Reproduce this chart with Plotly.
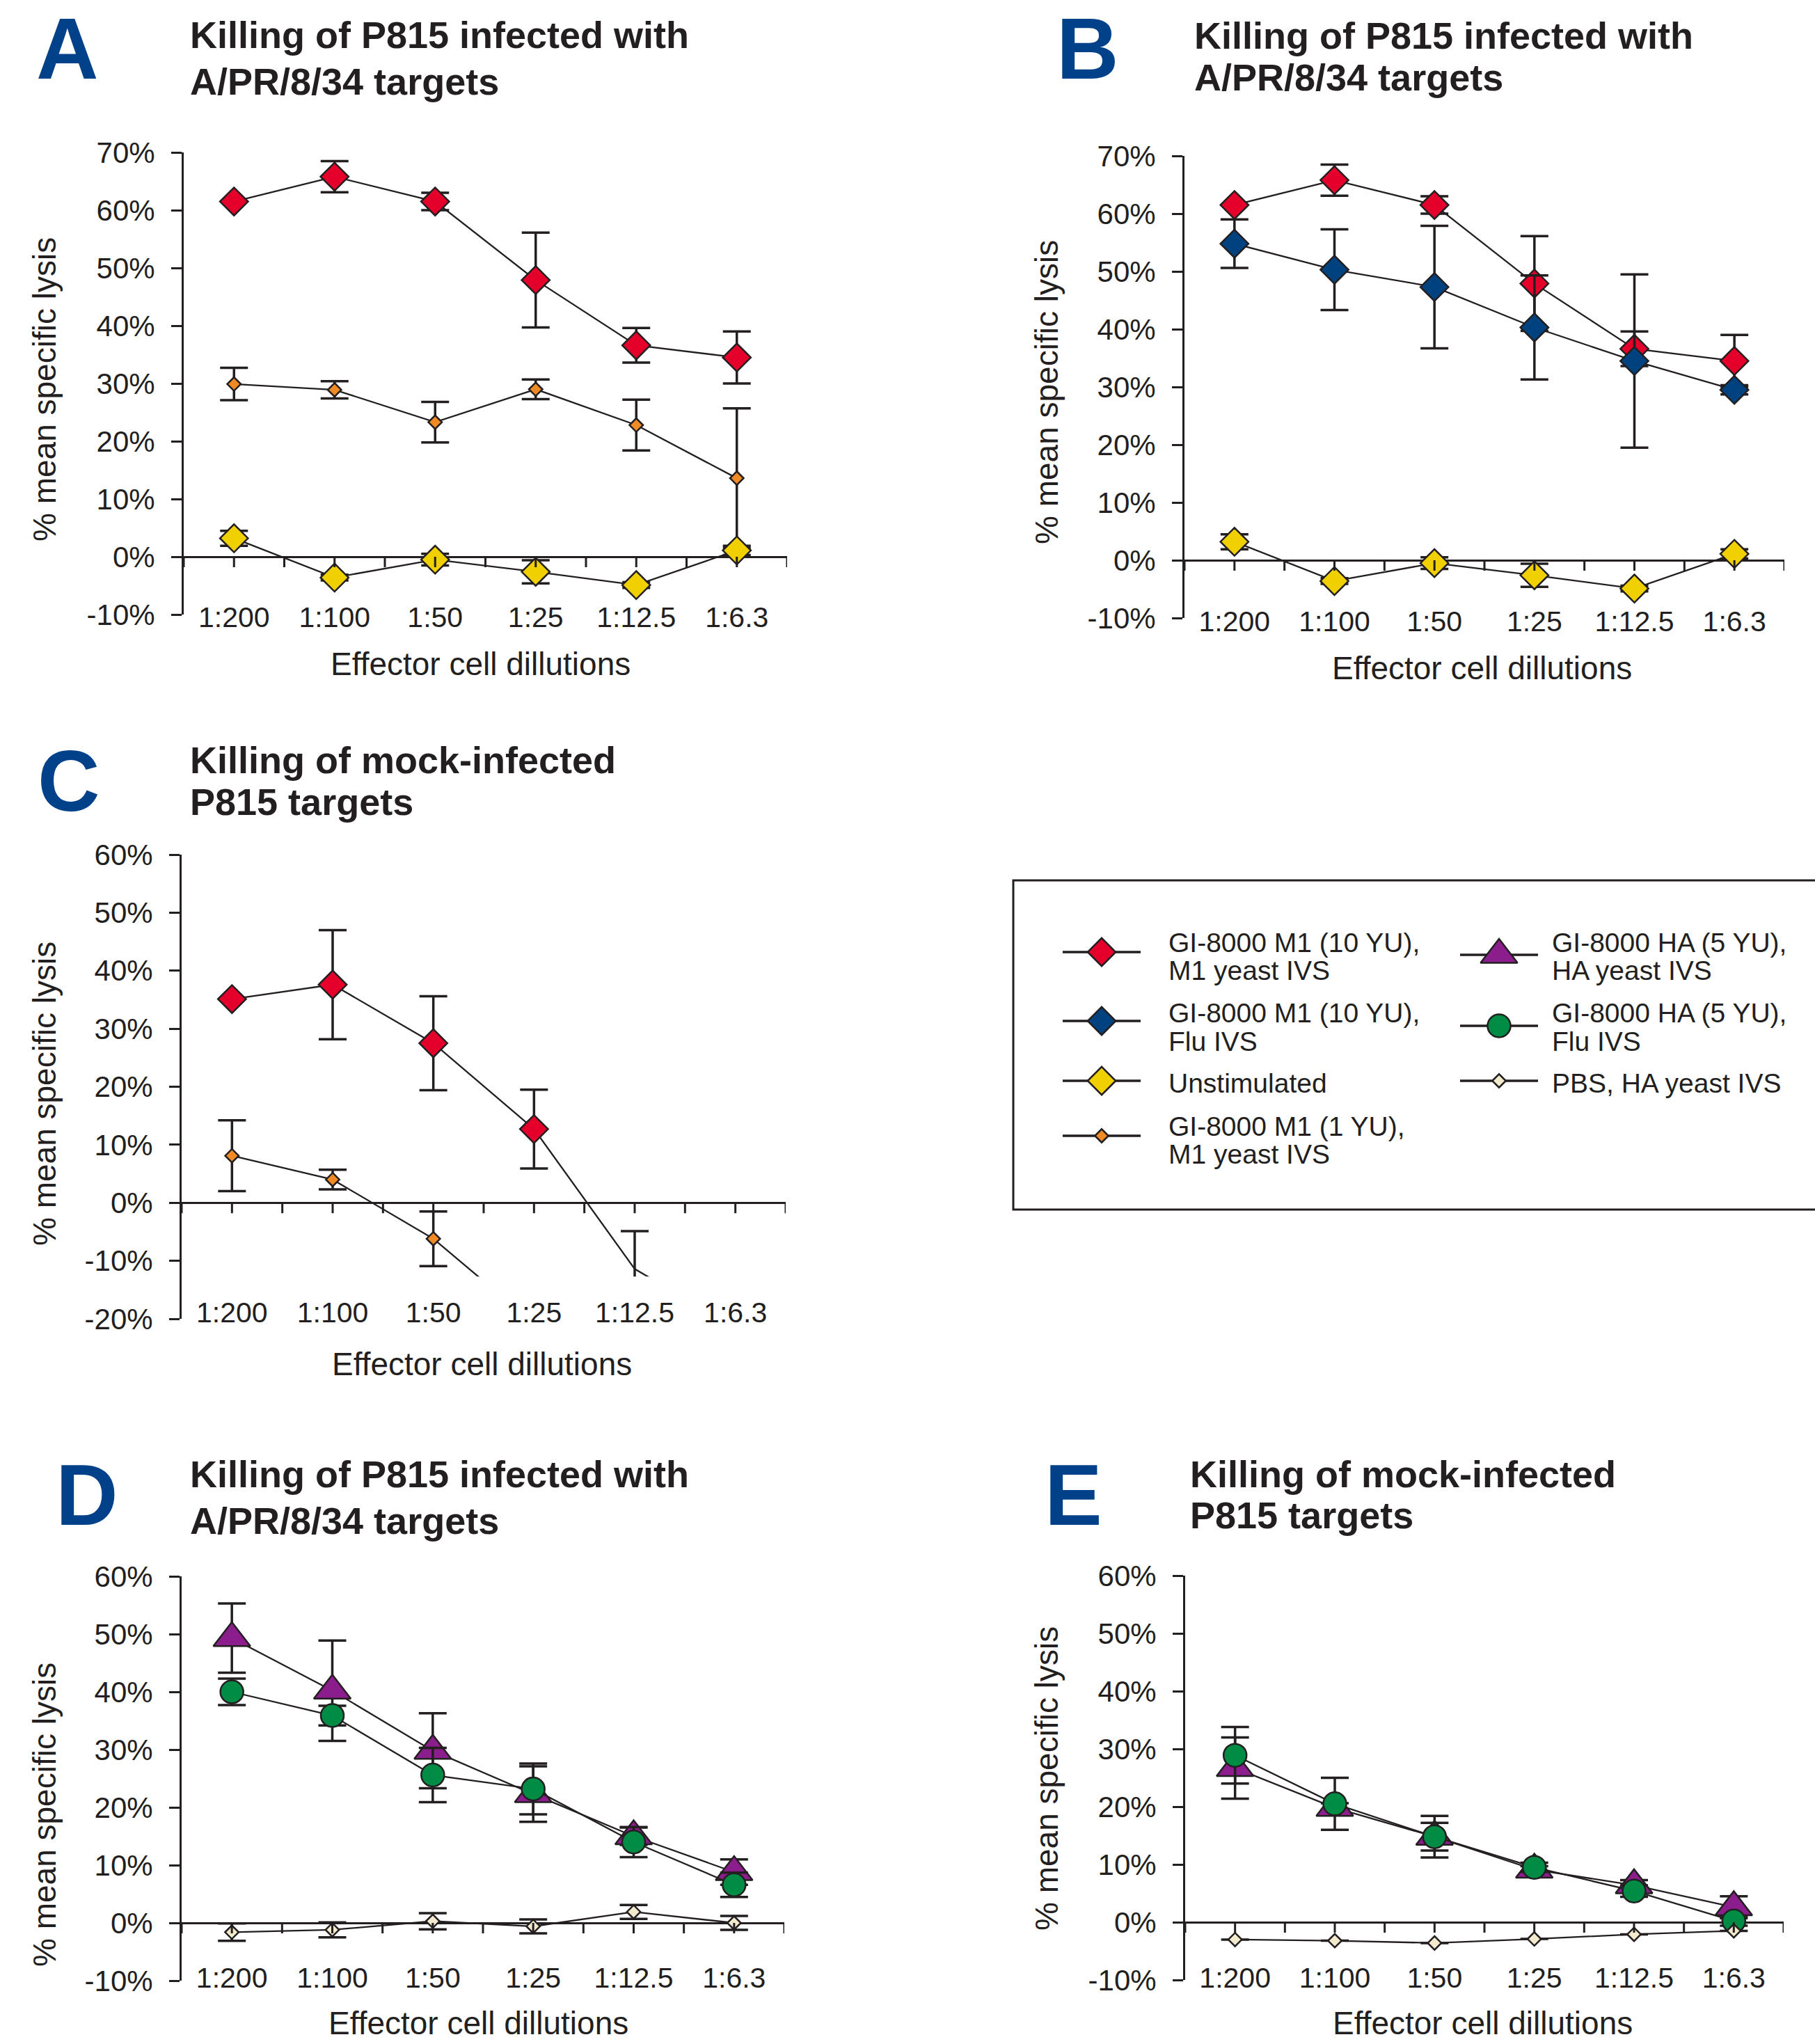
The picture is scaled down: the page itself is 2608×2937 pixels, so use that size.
import plotly.graph_objects as go

W, H = 2608, 2937

CATEGORIES = ["1:200", "1:100", "1:50", "1:25", "1:12.5", "1:6.3"]

# ---- Panel A : killing of A/PR/8/34 infected P815 ----
A_M1_10YU_M1IVS = [61.5, 65.8, 61.5, 47.9, 36.6, 34.5]
A_M1_10YU_M1IVS_ERR = [0, 2.7, 1.5, 8.2, 3.0, 4.5]
A_M1_1YU_M1IVS = [29.9, 28.9, 23.3, 29.0, 22.8, 13.6]
A_M1_1YU_M1IVS_ERR = [2.8, 1.5, 3.5, 1.7, 4.4, 12.1]
A_UNSTIM = [3.2, -3.6, -0.5, -2.6, -4.9, 1.1]
A_UNSTIM_ERR = [1.3, 0.5, 1.0, 2.0, 0.5, 0.8]

# ---- Panel B ----
B_M1_10YU_M1IVS = [61.5, 65.8, 61.5, 47.9, 36.6, 34.5]
B_M1_10YU_M1IVS_ERR = [0, 2.7, 1.5, 8.2, 3.0, 4.5]
B_M1_10YU_FLU = [54.8, 50.3, 47.3, 40.3, 34.5, 29.5]
B_M1_10YU_FLU_ERR = [4.2, 7.0, 10.6, 9.0, 15.0, 0.8]
B_UNSTIM = [3.2, -3.6, -0.5, -2.6, -4.9, 1.1]
B_UNSTIM_ERR = [1.3, 0.5, 1.0, 2.0, 0.5, 0.8]

# ---- Panel C : mock-infected ----
C_M1_10YU_M1IVS = [35.1, 37.6, 27.5, 12.7, -11.4, -21.6]
C_M1_10YU_M1IVS_ERR = [0, 9.4, 8.1, 6.8, 6.5, 0]
C_M1_1YU_M1IVS = [8.1, 4.0, -6.2, -20.8, None, None]
C_M1_1YU_M1IVS_ERR = [6.1, 1.7, 4.7, 0, 0, 0]

# ---- Panel D ----
D_HA_5YU_HAIVS = [49.3, 40.2, 29.8, 22.3, 15.0, 8.8]
D_HA_5YU_HAIVS_ERR = [6.0, 8.7, 6.5, 4.8, 1.5, 2.2]
D_HA_5YU_FLU = [40.0, 35.9, 25.6, 23.2, 14.0, 6.6]
D_HA_5YU_FLU_ERR = [2.3, 1.7, 4.7, 4.4, 2.6, 2.1]
D_PBS = [-1.6, -1.2, 0.3, -0.6, 1.9, 0.0]
D_PBS_ERR = [1.5, 1.3, 1.4, 1.2, 1.2, 1.2]

# ---- Panel E ----
E_HA_5YU_HAIVS = [26.7, 19.8, 14.8, 9.1, 6.4, 2.6]
E_HA_5YU_HAIVS_ERR = [5.3, 0.8, 2.4, 0.6, 0.9, 1.9]
E_HA_5YU_FLU = [28.9, 20.5, 14.8, 9.5, 5.4, 0.2]
E_HA_5YU_FLU_ERR = [4.9, 4.5, 3.6, 0.8, 1.0, 0.8]
E_PBS = [-3.0, -3.2, -3.6, -2.9, -2.1, -1.5]
E_PBS_ERR = [0, 0, 0, 0, 0, 0]

C_CLIP = -12.7          # the original panel C is cut off below this value
C_MARKER_FLOOR = -10.0  # markers below this are not shown in panel C

LEGEND_LABELS = {
    "m1_10_m1": ["GI-8000 M1 (10 YU),", "M1 yeast IVS"],
    "m1_10_flu": ["GI-8000 M1 (10 YU),", "Flu IVS"],
    "unstim": ["Unstimulated"],
    "m1_1_m1": ["GI-8000 M1 (1 YU),", "M1 yeast IVS"],
    "ha_5_ha": ["GI-8000 HA (5 YU),", "HA yeast IVS"],
    "ha_5_flu": ["GI-8000 HA (5 YU),", "Flu IVS"],
    "pbs": ["PBS, HA yeast IVS"],
}

# ---------------- styles ----------------
DARK = "#231F20"
FONT = "Liberation Sans, Arial, Helvetica, sans-serif"
LETTER_BLUE = "#00418A"
STYLE = {
    "m1_10_m1": dict(color="#E4002B", symbol="diamond", size=31),
    "m1_10_flu": dict(color="#00427F", symbol="diamond", size=31),
    "unstim": dict(color="#F0D000", symbol="diamond", size=31),
    "m1_1_m1": dict(color="#F08A24", symbol="diamond", size=15),
    "ha_5_ha": dict(color="#8B1E8C", symbol="triangle-up", size=46),
    "ha_5_flu": dict(color="#008C45", symbol="circle", size=33),
    "pbs": dict(color="#F3E9CC", symbol="diamond", size=15),
}


def px(x):
    return x / W


def py(y):
    return 1 - y / H


# panel geometry in pixels
PANELS = [
    dict(letter="A", x0=264, x1=1131, y0=219, y1=883, yr=(-10, 70), lab_top=873,
         title=["Killing of P815 infected with", "A/PR/8/34 targets"], tx=271, ty=(50, 117),
         lx=97, ly=70, ytx=64, yty=560, xtx=690, xty=954),
    dict(letter="B", x0=1702, x1=2564, y0=224, y1=888, yr=(-10, 70), lab_top=879,
         title=["Killing of P815 infected with", "A/PR/8/34 targets"], tx=1714, ty=(51, 111),
         lx=1563, ly=70, ytx=1504, yty=564, xtx=2129, xty=960),
    dict(letter="C", x0=261, x1=1129, y0=1228, y1=1895, yr=(-20, 60), lab_top=1872,
         title=["Killing of mock-infected", "P815 targets"], tx=271, ty=(1092, 1152),
         lx=99, ly=1122, ytx=64, yty=1572, xtx=692, xty=1960),
    dict(letter="D", x0=261, x1=1127, y0=2265, y1=2846, yr=(-10, 60), lab_top=2828,
         title=["Killing of P815 infected with", "A/PR/8/34 targets"], tx=271, ty=(2118, 2185),
         lx=125, ly=2148, ytx=64, yty=2608, xtx=688, xty=2907),
    dict(letter="E", x0=1703, x1=2563, y0=2264, y1=2845, yr=(-10, 60), lab_top=2828,
         title=["Killing of mock-infected", "P815 targets"], tx=1708, ty=(2118, 2177),
         lx=1542, ly=2148, ytx=1504, yty=2556, xtx=2130, xty=2907),
]

SERIES = [
    [("m1_10_m1", A_M1_10YU_M1IVS, A_M1_10YU_M1IVS_ERR),
     ("m1_1_m1", A_M1_1YU_M1IVS, A_M1_1YU_M1IVS_ERR),
     ("unstim", A_UNSTIM, A_UNSTIM_ERR)],
    [("m1_10_m1", B_M1_10YU_M1IVS, B_M1_10YU_M1IVS_ERR),
     ("m1_10_flu", B_M1_10YU_FLU, B_M1_10YU_FLU_ERR),
     ("unstim", B_UNSTIM, B_UNSTIM_ERR)],
    [("m1_10_m1", C_M1_10YU_M1IVS, C_M1_10YU_M1IVS_ERR),
     ("m1_1_m1", C_M1_1YU_M1IVS, C_M1_1YU_M1IVS_ERR)],
    [("ha_5_ha", D_HA_5YU_HAIVS, D_HA_5YU_HAIVS_ERR),
     ("ha_5_flu", D_HA_5YU_FLU, D_HA_5YU_FLU_ERR),
     ("pbs", D_PBS, D_PBS_ERR)],
    [("ha_5_ha", E_HA_5YU_HAIVS, E_HA_5YU_HAIVS_ERR),
     ("ha_5_flu", E_HA_5YU_FLU, E_HA_5YU_FLU_ERR),
     ("pbs", E_PBS, E_PBS_ERR)],
]

fig = go.Figure()
layout = {}
annotations = []
shapes = []


def ax_names(n):
    s = "" if n == 1 else str(n)
    return "x" + s, "y" + s, "xaxis" + s, "yaxis" + s


CLIP_AX = 7  # hidden subplot used to clip the data of panel C

for i, p in enumerate(PANELS):
    n = i + 1
    xr, yr_, xk, yk = ax_names(n)
    ylo, yhi = p["yr"]
    tickvals = list(range(ylo, yhi + 1, 10))
    layout[xk] = dict(
        domain=[px(p["x0"]), px(p["x1"])], type="category",
        categoryorder="array", categoryarray=CATEGORIES,
        range=[-0.5, len(CATEGORIES) - 0.5], anchor="free",
        position=py(p["lab_top"] - 14), showline=False, ticks="", showgrid=False,
        zeroline=False, tickfont=dict(family=FONT, size=41, color=DARK),
        fixedrange=True,
    )
    layout[yk] = dict(
        domain=[py(p["y1"]), py(p["y0"])], range=[ylo, yhi], anchor=xr,
        tickmode="array", tickvals=tickvals, ticktext=[f"{v}%" for v in tickvals],
        ticks="outside", ticklen=15, tickwidth=3, tickcolor=DARK,
        showline=True, linewidth=3, linecolor=DARK,
        zeroline=True, zerolinecolor=DARK, zerolinewidth=3, showgrid=False,
        tickfont=dict(family=FONT, size=42, color=DARK), ticklabelstandoff=15,
        fixedrange=True,
    )
    # tick marks hanging below the zero line
    k = -0.5
    while k <= len(CATEGORIES) - 0.5 + 1e-9:
        shapes.append(dict(type="line", xref=xr, yref=yr_, ysizemode="pixel", yanchor=0,
                           x0=k, x1=k, y0=0, y1=-15, line=dict(color=DARK, width=3)))
        k += 0.5

    txr, tyr = xr, yr_
    if p["letter"] == "C":
        # data of panel C live in an overlapping subplot whose bottom edge is the clip line
        txr, tyr = f"x{CLIP_AX}", f"y{CLIP_AX}"
        clip_px = p["y0"] + (yhi - C_CLIP) / (yhi - ylo) * (p["y1"] - p["y0"])
        layout[f"xaxis{CLIP_AX}"] = dict(
            domain=[px(p["x0"]), px(p["x1"])], type="category",
            categoryorder="array", categoryarray=CATEGORIES,
            range=[-0.5, len(CATEGORIES) - 0.5], visible=False, anchor=tyr, fixedrange=True)
        layout[f"yaxis{CLIP_AX}"] = dict(
            domain=[py(clip_px), py(p["y0"])], range=[C_CLIP, yhi], visible=False,
            anchor=txr, fixedrange=True)
        # empty trace so that the axis frame of panel C is drawn
        fig.add_trace(go.Scatter(x=[], y=[], xaxis=xr, yaxis=yr_, showlegend=False,
                                 hoverinfo="skip"))

    for key, vals, errs in SERIES[i]:
        st = STYLE[key]
        opac = None
        if p["letter"] == "C":
            opac = [0 if (v is None or v < C_MARKER_FLOOR) else 1 for v in vals]
        fig.add_trace(go.Scatter(
            x=CATEGORIES, y=vals, mode="lines+markers",
            line=dict(color=DARK, width=2.3),
            marker=dict(symbol=st["symbol"], size=st["size"], color=st["color"],
                        line=dict(color=DARK, width=2.5), opacity=opac),
            error_y=dict(type="data", array=errs, symmetric=True, color=DARK,
                         thickness=3.5, width=20, visible=True),
            xaxis=txr, yaxis=tyr, showlegend=False, hoverinfo="skip",
        ))

    # panel letter
    annotations.append(dict(text=p["letter"], x=px(p["lx"]), y=py(p["ly"]), xref="paper",
                            yref="paper", xanchor="center", yanchor="middle", showarrow=False,
                            font=dict(family=FONT, size=124, color=LETTER_BLUE, weight="bold")))
    # titles
    for line_txt, yy in zip(p["title"], p["ty"]):
        annotations.append(dict(text=line_txt, x=px(p["tx"]), y=py(yy), xref="paper",
                                yref="paper", xanchor="left", yanchor="middle", showarrow=False,
                                font=dict(family=FONT, size=54, color=DARK, weight="bold")))
    # axis titles
    annotations.append(dict(text="% mean specific lysis", x=px(p["ytx"]), y=py(p["yty"]),
                            xref="paper", yref="paper", xanchor="center", yanchor="middle",
                            textangle=-90, showarrow=False,
                            font=dict(family=FONT, size=46, color=DARK)))
    annotations.append(dict(text="Effector cell dillutions", x=px(p["xtx"]), y=py(p["xty"]),
                            xref="paper", yref="paper", xanchor="center", yanchor="middle",
                            showarrow=False, font=dict(family=FONT, size=46, color=DARK)))

# ---------------- legend (manual, in its own hidden subplot in pixel units) -------------
LX0, LX1, LY0, LY1 = 1455, 2608, 1265, 1738
layout["xaxis6"] = dict(domain=[px(LX0), 1.0], range=[LX0, LX1], visible=False,
                        anchor="y6", fixedrange=True)
layout["yaxis6"] = dict(domain=[py(LY1), py(LY0)], range=[LY1, LY0], visible=False,
                        anchor="x6", fixedrange=True)
shapes.append(dict(type="rect", xref="paper", yref="paper", x0=px(1456), x1=px(2650),
                   y0=py(1265), y1=py(1738), line=dict(color=DARK, width=3),
                   fillcolor="rgba(0,0,0,0)"))

LEGEND_LAYOUT = [
    # key, line x start, symbol x, line x end, text x, symbol y, text line ys
    ("m1_10_m1", 1527, 1583, 1639, 1677, 1368, [1354, 1394]),
    ("m1_10_flu", 1527, 1583, 1639, 1677, 1467, [1456, 1496]),
    ("unstim", 1527, 1583, 1639, 1677, 1553, [1556]),
    ("m1_1_m1", 1527, 1583, 1639, 1677, 1632, [1618, 1658]),
    ("ha_5_ha", 2098, 2154, 2210, 2228, 1372, [1354, 1394]),
    ("ha_5_flu", 2098, 2154, 2210, 2228, 1474, [1456, 1496]),
    ("pbs", 2098, 2154, 2210, 2228, 1553, [1556]),
]
for key, xa, xs, xb, xt, ys, tys in LEGEND_LAYOUT:
    st = STYLE[key]
    fig.add_trace(go.Scatter(x=[xa, xb], y=[ys, ys], mode="lines",
                             line=dict(color=DARK, width=3.5), xaxis="x6", yaxis="y6",
                             showlegend=False, hoverinfo="skip"))
    fig.add_trace(go.Scatter(x=[xs], y=[ys], mode="markers",
                             marker=dict(symbol=st["symbol"], size=st["size"], color=st["color"],
                                         line=dict(color=DARK, width=2.5)),
                             xaxis="x6", yaxis="y6", showlegend=False, hoverinfo="skip"))
    for txt, ty in zip(LEGEND_LABELS[key], tys):
        annotations.append(dict(text=txt, x=px(xt), y=py(ty), xref="paper", yref="paper",
                                xanchor="left", yanchor="middle", showarrow=False,
                                font=dict(family=FONT, size=39, color=DARK)))

fig.update_layout(
    width=W, height=H, autosize=False,
    margin=dict(l=0, r=0, t=0, b=0, pad=0, autoexpand=False),
    paper_bgcolor="white", plot_bgcolor="rgba(0,0,0,0)",
    showlegend=False, annotations=annotations, shapes=shapes,
    font=dict(family=FONT, color=DARK),
    **layout,
)

fig.write_html("out.html", config={"displayModeBar": False, "staticPlot": True},
               post_script="document.body.style.margin='0px';document.body.style.overflow='hidden';")
